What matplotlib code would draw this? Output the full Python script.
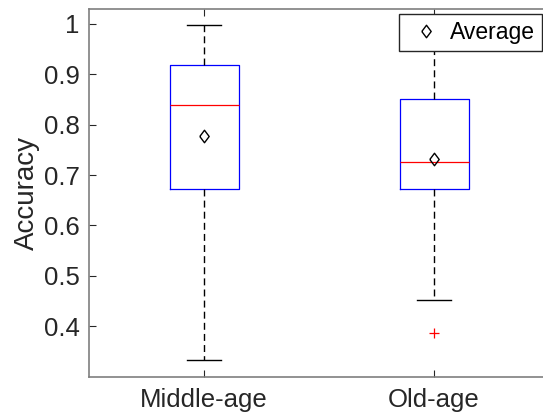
import matplotlib
matplotlib.use("Agg")
import matplotlib.pyplot as plt

categories = ["Middle-age", "Old-age"]
whisker_low = [0.333, 0.453]
q1 = [0.672, 0.673]
median = [0.839, 0.725]
q3 = [0.919, 0.851]
whisker_high = [0.998, 1.0]
means = [0.778, 0.732]
outliers = [[], [0.387]]
yticks = [0.4, 0.5, 0.6, 0.7, 0.8, 0.9, 1.0]
ytick_labels = ["0.4", "0.5", "0.6", "0.7", "0.8", "0.9", "1"]

plt.rcParams['font.family'] = ['Liberation Sans', 'DejaVu Sans']
fig = plt.figure(figsize=(5.43, 4.19), dpi=100)
ax = fig.add_axes([89.3 / 543, 1 - 376.7 / 419, (549 - 89.3) / 543, (376.7 - 8.7) / 419])

stats = []
for i, name in enumerate(categories):
    stats.append(dict(label=name, whislo=whisker_low[i], q1=q1[i], med=median[i],
                      q3=q3[i], whishi=whisker_high[i], mean=means[i], fliers=outliers[i]))

positions = [1, 2]
ax.bxp(stats, positions=positions, widths=0.3, showmeans=False, showfliers=True,
       boxprops=dict(color='#0000ff', linewidth=0.9),
       medianprops=dict(color='#ff0000', linewidth=0.9),
       whiskerprops=dict(color='black', linewidth=1.0, linestyle=(0, (5, 3))),
       capprops=dict(color='black', linewidth=1.0),
       capwidths=0.15,
       flierprops=dict(marker='+', markeredgecolor='#ff0000', markersize=7, markeredgewidth=0.9, linestyle='none'))

diamond = [(-0.75, 0), (0, 1), (0.75, 0), (0, -1), (-0.75, 0)]
ax.plot(positions, means, linestyle='none', marker=diamond, markersize=9,
        markerfacecolor='none', markeredgecolor='black', markeredgewidth=1.0,
        label='Average', zorder=5)

ax.set_xlim(0.5, 2.5)
ax.set_ylim(0.3, 1.03)
ax.set_yticks(yticks)
ax.set_yticklabels(ytick_labels)
ax.set_xticks(positions)
ax.set_xticklabels(categories)
ax.tick_params(axis='both', direction='in', length=5, width=0.8, colors='#262626',
               labelsize=18.5, top=True, right=False)
ax.tick_params(axis='x', pad=8)
ax.tick_params(axis='y', pad=7)
for sp in ax.spines.values():
    sp.set_color('#7f7f7f')
    sp.set_linewidth(1.2)
ax.set_ylabel('Accuracy', fontsize=20, color='#262626', labelpad=3)

leg = ax.legend(loc='upper right', bbox_to_anchor=(541.7 / 543, 1 - 14.5 / 419),
                bbox_transform=fig.transFigure, fontsize=16.5, frameon=True,
                fancybox=False, borderpad=0.3, handlelength=1.7, handletextpad=0.2,
                borderaxespad=0)
leg.get_frame().set_edgecolor('#262626')
leg.get_frame().set_linewidth(1.0)
leg.get_frame().set_alpha(1)

fig.savefig('out.png', dpi=100)
